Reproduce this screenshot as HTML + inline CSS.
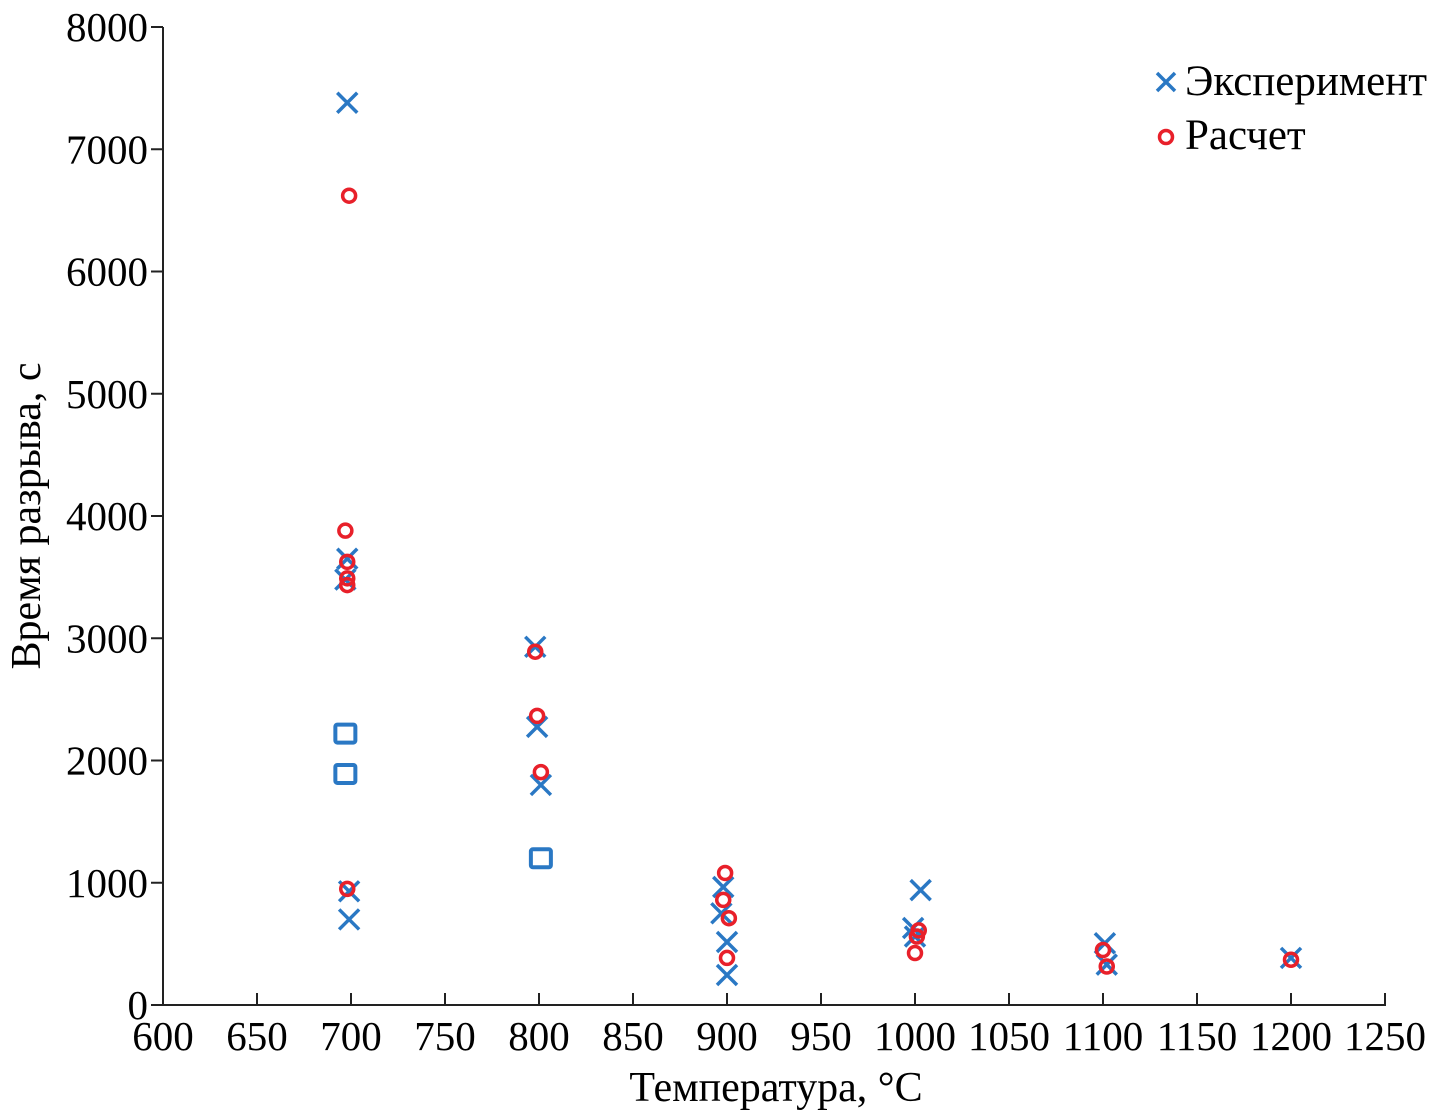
<!DOCTYPE html>
<html><head><meta charset="utf-8"><style>
html,body{margin:0;padding:0;background:#fff;}
svg{display:block;font-family:"Liberation Serif",serif;}
</style></head><body>
<svg id="chart" width="1434" height="1118" viewBox="0 0 1434 1118" xmlns="http://www.w3.org/2000/svg">
<g id="axes"></g>
<g id="marks"></g>
<text transform="translate(40,516) rotate(-90)" text-anchor="middle" font-size="42">Время разрыва, с</text>
<text x="776" y="1101" text-anchor="middle" font-size="42">Температура, °C</text>
<g>
<g>
<path d="M1157,73 L1175,91 M1175,73 L1157,91" stroke="#2a78c4" stroke-width="3.5"/>
<text x="1185" y="95" font-size="43">Эксперимент</text></g>
<g>
<circle cx="1166" cy="137" r="6.5" fill="none" stroke="#e8202a" stroke-width="3.5"/>
<text x="1185" y="149" font-size="43">Расчет</text></g>
</g>
</svg>
<script>
const xTicks=[600,650,700,750,800,850,900,950,1000,1050,1100,1150,1200,1250];
const yTicks=[0,1000,2000,3000,4000,5000,6000,7000,8000];
const expT=[698,698,697,699,699,798,799,801,898,897,900,900,1003,999,1000,1101,1102,1200];
const expV=[7380,3650,3480,930,700,2930,2275,1800,965,750,515,245,940,630,560,505,330,385];
const calcT=[699,697,698,698,698,698,798,799,801,899,898,901,900,1002,1001,1000,1100,1102,1200];
const calcV=[6620,3880,3625,3490,3435,950,2890,2365,1905,1080,860,710,385,610,560,425,450,315,370];
const sqT=[697,697,801];
const sqV=[2220,1890,1200];
const NS="http://www.w3.org/2000/svg";
const X=t=>163+(t-600)*(1222/650);
const Y=v=>1005-v*(978/8000);
const ax=document.getElementById('axes'),mk=document.getElementById('marks');
function el(tag,attrs,parent){const e=document.createElementNS(NS,tag);for(const k in attrs)e.setAttribute(k,attrs[k]);parent.appendChild(e);return e;}
const yl=el('line',{x1:163,y1:27,x2:163,y2:1005,stroke:'#222','stroke-width':2},ax);


const xl=el('line',{x1:163,y1:1005,x2:1386,y2:1005,stroke:'#222','stroke-width':2},ax);


xTicks.forEach(t=>{
 const l=el('line',{x1:X(t),y1:1005,x2:X(t),y2:993,stroke:'#222','stroke-width':2},ax);
 
 
 const tx=el('text',{x:X(t),y:1050,'text-anchor':'middle','font-size':41},ax);tx.textContent=t;
 
 
});
yTicks.forEach(v=>{
 const l=el('line',{x1:151,y1:Y(v),x2:163,y2:Y(v),stroke:'#222','stroke-width':2},ax);
 
 
 const tx=el('text',{x:148,y:Y(v)+14,'text-anchor':'end','font-size':41},ax);tx.textContent=v;
 
 
});
sqT.forEach((t,i)=>{
 const r=el('rect',{x:X(t)-10,y:Y(sqV[i])-9,width:20,height:18,rx:2,fill:'none',stroke:'#2a78c4','stroke-width':4},mk);
 
 
});
expT.forEach((t,i)=>{
 const x=X(t),y=Y(expV[i]);
 const p=el('path',{d:`M${x-10},${y-10} L${x+10},${y+10} M${x+10},${y-10} L${x-10},${y+10}`,stroke:'#2a78c4','stroke-width':3.5},mk);
 
 
});
calcT.forEach((t,i)=>{
 const c=el('circle',{cx:X(t),cy:Y(calcV[i]),r:6.5,fill:'none',stroke:'#e8202a','stroke-width':3.5},mk);
 
 
});
</script>
</body></html>
